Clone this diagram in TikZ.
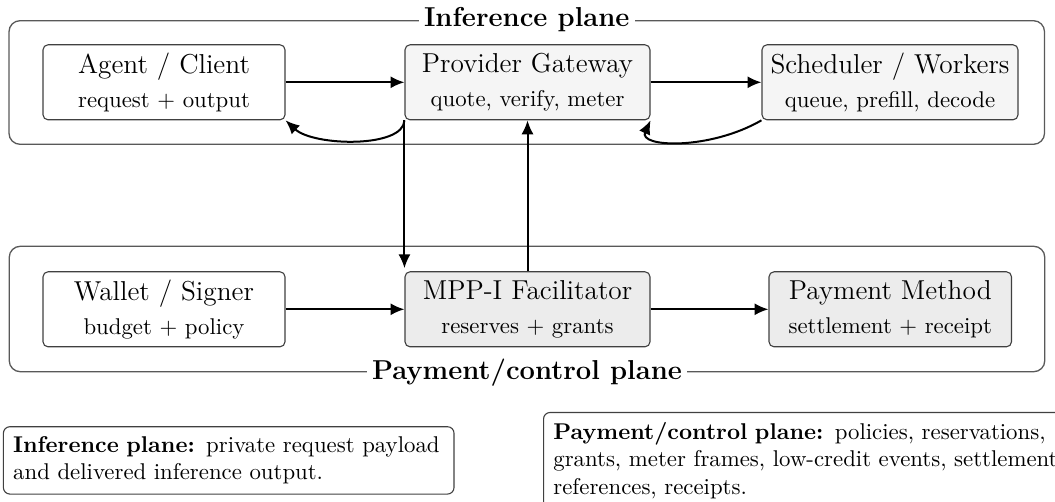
\documentclass[tikz,border=0pt]{standalone}
\usetikzlibrary{arrows.meta,calc}
% one drawing unit
\newdimen\pxu
\pxu=0.4386pt
\begin{document}
\begin{tikzpicture}[x=\pxu, y=-\pxu,
  plane/.style={draw=black!65, line width=1.3\pxu, rounded corners=11\pxu,
    minimum width=1035.5\pxu, inner sep=0pt},
  planelabel/.style={fill=white, font=\large\bfseries, inner sep=5.5\pxu},
  card/.style={draw=black!75, line width=1.1\pxu, rounded corners=5\pxu,
    align=center, minimum height=75\pxu, inner sep=6.5\pxu},
  plainbox/.style={card, fill=white},
  inferbox/.style={card, fill=black!4},
  paybox/.style={card, fill=black!7.5},
  conn/.style={-{Latex[length=6.1pt,width=5.3pt]}, line width=2\pxu},
  note/.style={draw=black!75, line width=1.1\pxu, rounded corners=6.5\pxu,
    align=left, inner sep=9.8\pxu, font=\normalsize}
]
\clip (0,0) rectangle (1055,502);
\useasboundingbox (0,0) rectangle (1055,502);

% the two planes
\node[plane, minimum height=123.6\pxu] (inf) at (526.75,82.5) {};
\node[plane, minimum height=125.4\pxu] (ctl) at (527,309) {};
\node[planelabel] (infl) at (inf.north) {Inference plane};
\node[planelabel] (ctll) at (ctl.south) {Payment/control plane};

% inference plane components
\node[plainbox, minimum width=242\pxu] (agent) at (164,82.3)
  {{\large Agent / Client}\\[3pt] request + output};
\node[inferbox, minimum width=245\pxu] (gw) at (527.5,82.3)
  {{\large Provider Gateway}\\[3pt] quote, verify, meter};
\node[inferbox, minimum width=256\pxu] (sched) at (890,82.3)
  {{\large Scheduler / Workers}\\[3pt] queue, prefill, decode};

% payment/control plane components
\node[plainbox, minimum width=242\pxu] (wallet) at (164,309.3)
  {{\large Wallet / Signer}\\[3pt] budget + policy};
\node[paybox, minimum width=245\pxu] (mpp) at (527.5,309.3)
  {{\large MPP-I Facilitator}\\[3pt] reserves + grants};
\node[paybox, minimum width=242.5\pxu] (pay) at (890.25,309.3)
  {{\large Payment Method}\\[3pt] settlement + receipt};

% flows
\draw[conn] (agent.east) -- (gw.west);
\draw[conn] (gw.east) -- (sched.west);
\draw[conn] (wallet.east) -- (mpp.west);
\draw[conn] (mpp.east) -- (pay.west);
\draw[conn] (mpp.north) -- (gw.south);
\draw[conn, shorten >=3\pxu] (gw.south west) -- (gw.south west |- mpp.north);
\draw[conn] (gw.south west)
  .. controls ($(gw.south west)+(-1,28)$) and ($(agent.south east)+(28,26)$)
  .. (agent.south east);
\draw[conn] (sched.south west)
  .. controls ($(sched.south west)+(-52,30)$) and ($(gw.south east)+(-12.6,27.3)$)
  .. (gw.south east);

% legend notes
\node[note, text width=431\pxu] (noteinf) at (228.7,460.4)
  {\textbf{Inference plane:} private request payload and delivered inference output.};
\node[note, text width=520\pxu, anchor=west] (notepay) at (543,460.4)
  {\textbf{Payment/control plane:} policies, reservations, grants, meter frames, low-credit events, settlement references, receipts.};
\end{tikzpicture}
\end{document}
